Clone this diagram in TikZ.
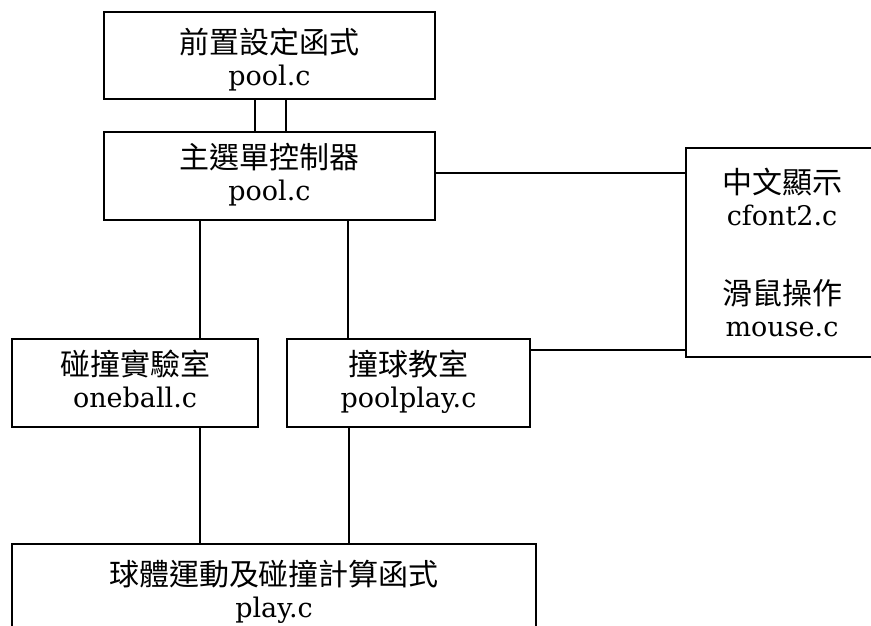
\documentclass[tikz,border=0pt]{standalone}
\usepackage{fontspec}
\setmainfont{DejaVu Serif}
\newfontfamily\cjk{Noto Sans CJK TC}
\newcommand\zh[1]{{\cjk\fontsize{30}{32}\selectfont #1}}
\begin{document}
\begin{tikzpicture}[x=1pt,y=-1pt,
  box/.style={draw, line width=2pt, inner sep=0pt},
  txt/.style={inner sep=0pt, align=center, anchor=base,
    font=\fontsize{27}{32}\selectfont},
  conn/.style={line width=2pt}]
\useasboundingbox (0,0) rectangle (871,625);
\clip (0,0) rectangle (871,625);
% boxes
\node[box, minimum width=331, minimum height=87] (setup) at (269.5,55.5) {};
\node[box, minimum width=331, minimum height=88] (main) at (269.5,176) {};
\node[box, minimum width=246, minimum height=88] (oneball) at (135,383) {};
\node[box, minimum width=243, minimum height=88] (poolplay) at (408.5,383) {};
\node[box, minimum width=192, minimum height=209] (cfont) at (782,252.5) {};
\node[box, minimum width=524, minimum height=101] (play) at (274,594.5) {};
% texts
\node[txt] (setupT) at (269.5,85) {\zh{前置設定函式}\\pool.c};
\node[txt] (mainT) at (269.5,200) {\zh{主選單控制器}\\pool.c};
\node[txt] (oneballT) at (135,407) {\zh{碰撞實驗室}\\oneball.c};
\node[txt] (poolplayT) at (408.5,407) {\zh{撞球教室}\\poolplay.c};
\node[txt] (cfontT) at (782,336) {\zh{中文顯示}\\cfont2.c\\[47pt]\zh{滑鼠操作}\\mouse.c};
\node[txt] (playT) at (274,617) {\zh{球體運動及碰撞計算函式}\\play.c};
% connectors
\draw[conn] ([xshift=-14.5]setup.south) -- ([xshift=-14.5]main.north);
\draw[conn] ([xshift=16.5]setup.south) -- ([xshift=16.5]main.north);
\draw[conn] ([yshift=3]main.east) -- ([yshift=3]main.east -| cfont.west);
\draw[conn] ([xshift=-69.5]main.south) -- ([xshift=-69.5]main.south |- oneball.north);
\draw[conn] ([xshift=78.5]main.south) -- ([xshift=78.5]main.south |- poolplay.north);
\draw[conn] ([yshift=-12]poolplay.north east) -- ([yshift=-12]poolplay.north east -| cfont.west);
\draw[conn] ([xshift=65]oneball.south) -- ([xshift=65]oneball.south |- play.north);
\draw[conn] ([xshift=-59.5]poolplay.south) -- ([xshift=-59.5]poolplay.south |- play.north);
\end{tikzpicture}
\end{document}
